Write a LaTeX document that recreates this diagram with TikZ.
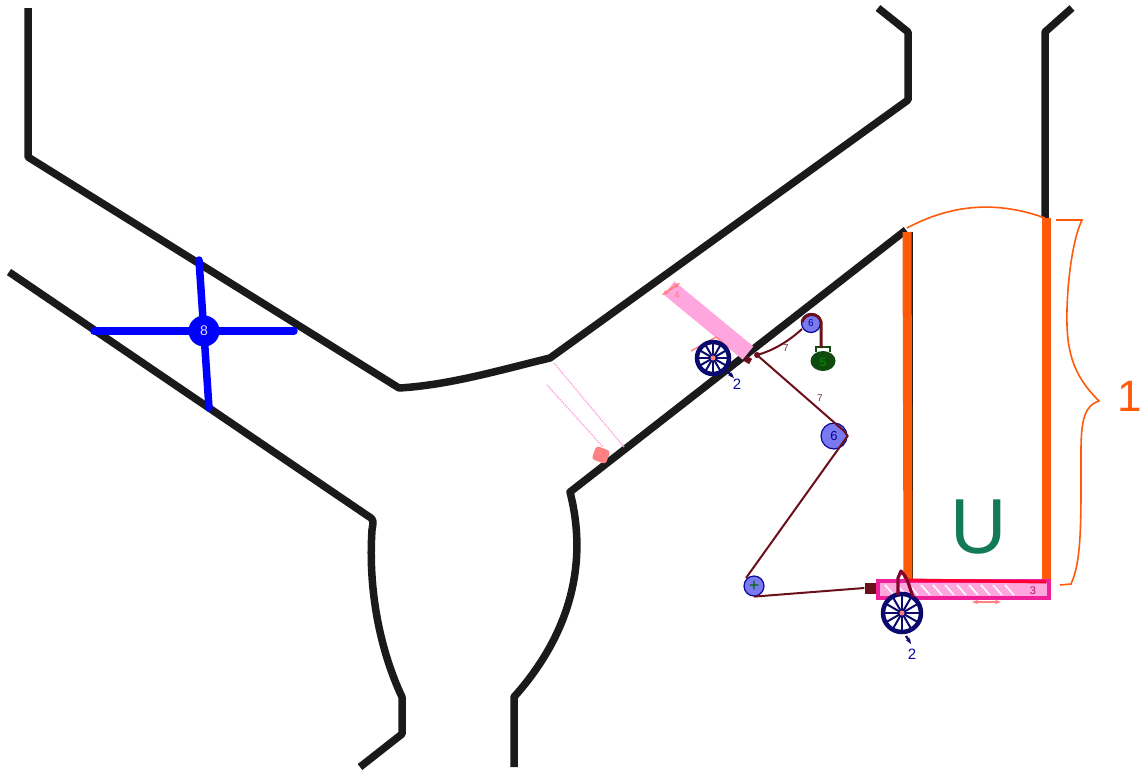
\documentclass[tikz,border=0pt]{standalone}
\usepackage{fontspec}
\setmainfont{Liberation Sans}
\usetikzlibrary{arrows.meta}
\definecolor{muro}{HTML}{1A1A1A}
\definecolor{naranja}{HTML}{FF5A0A}
\definecolor{granate}{HTML}{6B0F1A}
\definecolor{rosa}{HTML}{FFA6DE}
\definecolor{salmon}{HTML}{FF8080}
\definecolor{magenta2}{HTML}{F0209A}
\definecolor{marino}{HTML}{0A0A6E}
\definecolor{azulclaro}{HTML}{7A7AF0}
\definecolor{verdeosc}{HTML}{0F4A0F}
\definecolor{verdeu}{HTML}{127A55}
\begin{document}
\begin{tikzpicture}
            [
                x=1pt, y=-1pt,
                muro/.style={draw=muro, line width=7.5pt, line join=round},
                lado/.style={draw=naranja, line width=9pt},
                cable/.style={draw=granate, line width=2pt},
                polea/.style={circle, draw=marino!70!blue, fill=azulclaro, inner sep=0pt, line width=1.2pt, font=\fontsize{13}{13}\selectfont, text=marino!70!blue},
                barra/.style={draw=rosa, line width=17pt},
                radio/.style={draw=marino, line width=2pt},
                brazo/.style={draw=blue, line width=7.5pt, line cap=round},
                guia/.style={draw=rosa, line width=1.4pt, densely dotted},
                mueve/.style={draw=salmon, line width=2pt, {Stealth[length=6pt]}-{Stealth[length=6pt]}},
                rueda/.pic={
                    \draw[draw=marino, line width=4.5pt, fill=white] (0,0) circle (#1);
                    \foreach \ang in {0,30,...,330}
                        \draw[radio] (0,0) -- (\ang:#1);
                    \fill[salmon] (0,0) circle (2.5pt);
                },
                marca/.style={text=marino!70!blue, font=\fontsize{15}{15}\selectfont},
                flecha/.style={draw=marino, line width=2.2pt, -{Stealth[length=6pt]}},
            ]
            \useasboundingbox (0,0) rectangle (1143,769);
            %paredes
            \draw[muro] (28,8) -- (28,157) -- (399,388) .. controls (450,385) and (500,370) .. (550,358) -- (908,100) -- (908,32) -- (878,8);
            \draw[muro] (9,272) -- (368,516) .. controls (375,520) and (373,522) .. (372,530) .. controls (368,590) and (380,650) .. (402,697) -- (402,734) -- (360,767);
            \draw[muro] (514,767) -- (514,697) .. controls (565,640) and (590,570) .. (570,492) -- (906,230);
            \draw[muro] (1072,8) -- (1045,32) -- (1045,218);
            \draw[draw=muro, line width=2.5pt] (912,232) -- (912,580);
            %lados
            \draw[lado] (907,232) -- (908,582);
            \draw[lado] (1046,218) -- (1046,586);
            \draw[draw=naranja, line width=1.6pt] (907,228) .. controls (950,205) and (995,200) .. (1045,218);
            \draw[draw=naranja, line width=1.6pt] (1056,220) -- (1082,220) .. controls (1072,240) and (1066,290) .. (1067,325) .. controls (1068,360) and (1078,380) .. (1099,401) .. controls (1085,405) and (1081,420) .. (1081,450) .. controls (1081,520) and (1082,560) .. (1071,584) -- (1060,585);
            \node[text=naranja, font=\fontsize{44}{44}\selectfont] (uno) at (1130,396) {1};
            \node[text=verdeu, font=\fontsize{78}{78}\selectfont] (ene) at (979,527) {U};
            %cuadro del fondo
            \node[draw=magenta2, line width=4pt, fill=rosa, minimum width=171pt, minimum height=17pt, inner sep=0pt] (carro) at (963,589) {};
            \draw[draw=red!80!magenta, line width=3pt] (908,580) -- (1046,582);
            \foreach \xa in {885,897,...,1015}
                \draw[draw=white, line width=1.6pt] (\xa,585) -- (\xa+9,595);
            \node[text=magenta2!70!black, font=\fontsize{11}{11}\selectfont] (tres) at (1033,591) {3};
            \draw[mueve] (972,602) -- (1001,602);
            %barrera
            \coordinate (bi) at (669,288);
            \coordinate (bf) at (748,353);
            \draw[barra] (bi) -- (bf);
            \draw[mueve] (662,295) -- (680,283);
            \node[text=salmon, font=\fontsize{10}{10}\selectfont] (cuatro) at (677,295) {4};
            \draw[draw=salmon, line width=1.4pt] (691,351) -- (716,337) -- (728,347);
            \pic at (713,358) {rueda=16};
            \coordinate (fa) at (728,372);
            \coordinate (fb) at (734,378);
            \draw[flecha] (fa) -- (fb);
            \node[marca] (dos) at (737,384) {2};
            %barrera abierta
            \coordinate (ga) at (554,363);
            \coordinate (gb) at (624,447);
            \coordinate (gc) at (547,385);
            \coordinate (gd) at (603,447);
            \draw[guia] (ga) -- (gb);
            \draw[guia] (gc) -- (gd);
            \node[fill=salmon, rounded corners=3pt, minimum width=15pt, minimum height=14pt, inner sep=0pt, rotate=-20] (bloque) at (601,455) {};
            %poleas y contrapeso
            \node[polea, minimum size=19pt, font=\fontsize{10}{10}\selectfont] (p1) at (811,323) {6};
            \node[polea, minimum size=26pt] (p2) at (834,436) {6};
            \node[polea, minimum size=20pt, text=green!40!black, font=\fontsize{18}{18}\selectfont] (p3) at (754,586) {+};
            \node[circle, fill=verdeosc, minimum width=25pt, inner sep=0pt, yscale=.8] (peso) at (823,361) {};
            \node[text=green!60!black, font=\fontsize{12}{12}\selectfont] (cinco) at (823,362) {5};
            \draw[draw=verdeosc, line width=2pt] (816,352) -- (816,347) -- (830,347) -- (830,352);
            \coordinate (nudo) at (757,355);
            \node[fill=granate, minimum size=11pt, inner sep=0pt] (enganche) at (870,588) {};
            \draw[cable] (nudo) .. controls (775,350) and (790,340) .. (802,329);
            \draw[draw=granate, line width=3pt] (802,322) .. controls (805,312) and (819,312) .. (821,322) -- (821,348);
            \fill[granate] (nudo) circle (3pt);
            \draw[cable] (nudo) -- (844,431) -- (p2.east) -- (746,578);
            \draw[cable] (p3.south) -- (enganche.west);
            \node[fill=granate, minimum size=6pt, inner sep=0pt, rotate=-30] (pasador) at (748,360) {};
            \node[text=granate!70!gray, font=\fontsize{10}{10}\selectfont] (s1) at (786,348) {7};
            \node[text=granate!70!gray, font=\fontsize{10}{10}\selectfont] (s2) at (820,398) {7};
            %rueda del carro
            \pic at (902,613) {rueda=19};
            \draw[draw=purple!70!black, line width=3.2pt, line join=round] (898,595) -- (898,578) -- (901,571) -- (905,576) -- (908,582) -- (913,597);
            \coordinate (fc) at (906,636);
            \coordinate (fd) at (911,644);
            \draw[flecha] (fc) -- (fd);
            \node[marca] (dosb) at (912,654) {2};
            %cruz
            \coordinate (ca) at (199,260);
            \coordinate (cb) at (209,408);
            \coordinate (cc) at (94,331);
            \coordinate (cd) at (294,331);
            \draw[brazo] (ca) -- (cb);
            \draw[brazo] (cc) -- (cd);
            \node[circle, fill=blue, minimum size=31pt, inner sep=0pt, text=white!85!blue, font=\fontsize{14}{14}\selectfont] (ocho) at (204,331) {8};
        \end{tikzpicture}
\end{document}
